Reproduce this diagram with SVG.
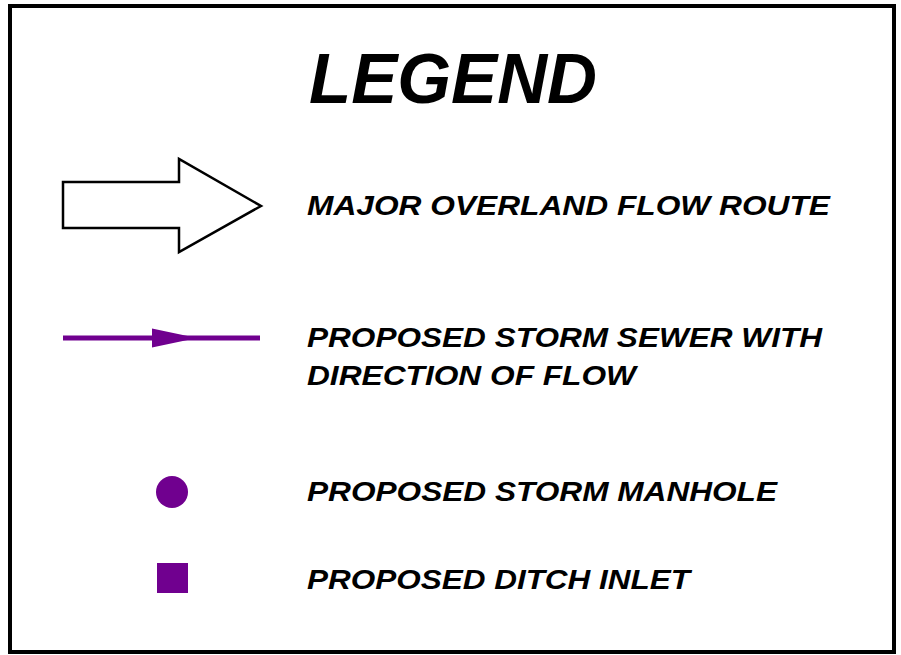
<svg xmlns="http://www.w3.org/2000/svg" width="901" height="655" viewBox="0 0 901 655">
<style>
.lbl{font-family:"Liberation Sans",Arial,sans-serif;font-weight:bold;font-style:italic;font-size:28px;fill:#000}
.title{font-family:"Liberation Sans",Arial,sans-serif;font-weight:bold;font-style:italic;font-size:71px;fill:#000}
.purple{fill:#70008F}
</style>
<rect x="0" y="0" width="901" height="655" fill="#fff"/>
<rect id="frame" x="10" y="6" width="884" height="646" fill="none" stroke="#000" stroke-width="4"/>
<text id="title" class="title" x="309" y="103" textLength="288" lengthAdjust="spacingAndGlyphs">LEGEND</text>
<g id="overland">
<polygon points="63,182 179,182 179,159 261,206 179,252 179,228 63,228" fill="#fff" stroke="#000" stroke-width="2.5" stroke-linejoin="miter"/>
<text class="lbl" x="307" y="215" textLength="523" lengthAdjust="spacingAndGlyphs">MAJOR OVERLAND FLOW ROUTE</text>
</g>
<g id="connectors">
<line x1="63" y1="338" x2="260" y2="338" stroke="#70008F" stroke-width="5"/>
<polygon class="purple" points="152,328.5 197,338 152,347.5"/>
</g>
<g id="sewer">
<text class="lbl" x="307" y="347" textLength="515" lengthAdjust="spacingAndGlyphs">PROPOSED STORM SEWER WITH</text>
<text class="lbl" x="307" y="385" textLength="329" lengthAdjust="spacingAndGlyphs">DIRECTION OF FLOW</text>
</g>
<g id="manhole">
<circle class="purple" cx="172" cy="492" r="16"/>
<text class="lbl" x="307" y="501" textLength="470" lengthAdjust="spacingAndGlyphs">PROPOSED STORM MANHOLE</text>
</g>
<g id="inlet">
<rect class="purple" x="157" y="563" width="31" height="30"/>
<text class="lbl" x="307" y="589" textLength="383" lengthAdjust="spacingAndGlyphs">PROPOSED DITCH INLET</text>
</g>
</svg>
